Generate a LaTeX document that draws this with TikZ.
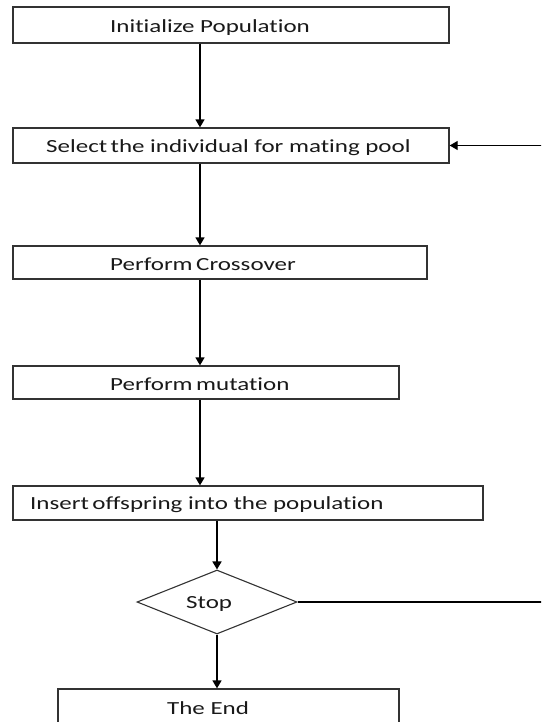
\documentclass[tikz,border=0pt]{standalone}
\usepackage{fontspec}
\setmainfont{Carlito}[FakeStretch=1.35, Ligatures=NoCommon]
\usetikzlibrary{arrows.meta,shapes.geometric}
\tikzset{
  box/.style={draw=black!80, line width=1.3pt, rectangle, inner sep=0pt},
  dia/.style={draw=black!80, line width=1.1pt, diamond, inner sep=0pt},
  lbl/.style={anchor=base west, inner sep=0pt, text=black!90, font=\fontsize{18.5}{20}\selectfont},
  arr/.style={line width=1.6pt, -{Triangle[width=9pt,length=8pt]}},
  ln/.style={line width=1.1pt}
}
\begin{document}
\begin{tikzpicture}[x=1pt,y=-1pt]
\clip (0,0) rectangle (541,722);
\fill[white] (0,0) rectangle (541,722);
\node[box, minimum width=436, minimum height=36] (b1) at (231,25) {};
\node[box, minimum width=436, minimum height=35] (b2) at (231,145.5) {};
\node[box, minimum width=414, minimum height=33] (b3) at (220,262.5) {};
\node[box, minimum width=386, minimum height=33] (b4) at (206,382.5) {};
\node[box, minimum width=470, minimum height=34] (b5) at (248,503) {};
\node[dia, minimum width=160, minimum height=64] (d) at (217,602) {};
\node[box, minimum width=341, minimum height=44] (e) at (228.5,711) {};
\node[lbl] (t1) at (110,32.3) {Initialize Population};
\node[lbl] (t2) at (46,152.7) {Select\hspace{3.5pt}the individual for mating pool};
\node[lbl] (t3) at (110,270.7) {Perform\hspace{3.5pt}Crossover};
\node[lbl] (t4) at (110,390) {Perform\hspace{3.5pt}mutation};
\node[lbl] (t5) at (30,509) {Insert\hspace{3.5pt}offspring into the population};
\node[lbl] (t6) at (186,608) {Stop};
\node[lbl] (t7) at (167,714) {The End};
\coordinate (ax) at (200,0);
\coordinate (r1) at (550,602);
\coordinate (r2) at (550,145.5);
\draw[arr] (b1.south -| ax) -- (b2.north -| ax);
\draw[arr] (b2.south -| ax) -- (b3.north -| ax);
\draw[arr] (b3.south -| ax) -- (b4.north -| ax);
\draw[arr] (b4.south -| ax) -- (b5.north -| ax);
\draw[arr] (b5.south -| d.north) -- (d.north);
\draw[arr] (d.south) -- (e.north -| d.south);
\draw[ln, -{Triangle[width=9pt,length=8pt]}] (d.east) -- (r1) -- (r2) -- (b2.east);
\end{tikzpicture}
\end{document}
